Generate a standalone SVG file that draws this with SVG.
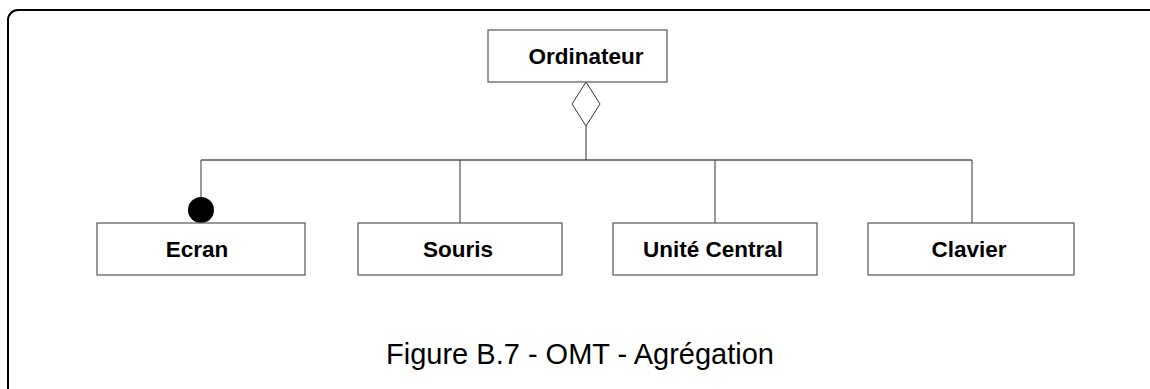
<svg xmlns="http://www.w3.org/2000/svg" width="1150" height="389" viewBox="0 0 1150 389">
<style>
.box{fill:#fff;stroke:#555;stroke-width:1.2}
.lbl{font-family:"Liberation Sans",Arial,sans-serif;font-weight:bold;font-size:22.5px;fill:#000;text-anchor:middle}
.ln{stroke:#555;stroke-width:1.2;fill:none}
.hl{stroke:#000;stroke-width:1.2;fill:none}
</style>
<rect x="8" y="10" width="1160" height="392" rx="10" fill="#fff" stroke="#000" stroke-width="2"/>
<g id="connectors">
<polygon points="586,82 600,104 586,126 572,104" fill="#fff" stroke="#333" stroke-width="1"/>
<line class="ln" x1="586" y1="126" x2="586" y2="160"/>
<line class="hl" x1="201" y1="160" x2="972" y2="160"/>
<line class="ln" x1="201" y1="160" x2="201" y2="200"/>
<circle cx="201" cy="210" r="13" fill="#000"/>
<line class="ln" x1="460" y1="160" x2="460" y2="223"/>
<line class="ln" x1="715" y1="160" x2="715" y2="223"/>
<line class="ln" x1="972" y1="160" x2="972" y2="223"/>
</g>
<g id="ordinateur"><rect class="box" x="488" y="30" width="179" height="52"/><text class="lbl" x="586" y="64">Ordinateur</text></g>
<g id="ecran"><rect class="box" x="97" y="223" width="208" height="52"/><text class="lbl" x="197" y="257">Ecran</text></g>
<g id="souris"><rect class="box" x="358" y="223" width="204" height="52"/><text class="lbl" x="458" y="257">Souris</text></g>
<g id="unite"><rect class="box" x="613" y="223" width="204" height="52"/><text class="lbl" x="713" y="257">Unité Central</text></g>
<g id="clavier"><rect class="box" x="868" y="223" width="206" height="52"/><text class="lbl" x="969" y="257">Clavier</text></g>
<text x="580" y="364" font-family="&quot;Liberation Sans&quot;,Arial,sans-serif" font-size="29" text-anchor="middle" fill="#000">Figure B.7 - OMT - Agrégation</text>
</svg>
